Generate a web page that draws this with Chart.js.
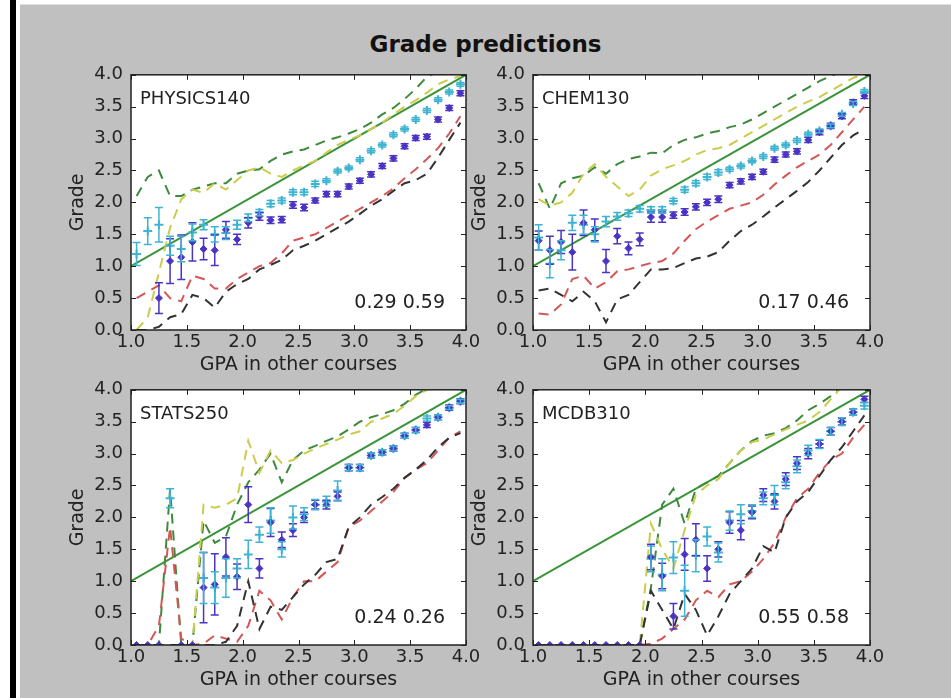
<!DOCTYPE html>
<html>
<head>
<meta charset="utf-8">
<script src="https://cdn.jsdelivr.net/npm/chart.js@4"></script>
<style>
  body { margin: 0; width: 951px; height: 698px; position: relative; overflow: hidden; background: #fff; font-family: "DejaVu Sans", sans-serif; }
  #bar { position: absolute; left: 10px; top: 0; width: 6px; height: 698px; background: #000; }
  #bg { position: absolute; left: 20px; top: 4px; right: 0; bottom: 0; background: #c0c0c0; border-top: 1px solid #e2e2e2; }
  #title { position: absolute; left: 20px; right: 0; top: 31px; line-height: 28px; text-align: center; font: bold 23px "DejaVu Sans"; color: #111; }
  canvas { position: absolute; }
</style>
</head>
<body>
<div id="bar"></div>
<div id="bg"></div>
<div id="title">Grade predictions</div>
<canvas id="c1" width="429" height="324" style="left:61px;top:56px"></canvas>
<canvas id="c2" width="431" height="324" style="left:463px;top:56px"></canvas>
<canvas id="c3" width="429" height="324" style="left:61px;top:371px"></canvas>
<canvas id="c4" width="431" height="324" style="left:463px;top:371px"></canvas>
<script>
// bins of GPA in other courses
const gpaBins = [1.05, 1.15, 1.25, 1.35, 1.45, 1.55, 1.65, 1.75, 1.85, 1.95, 2.05, 2.15, 2.25, 2.35, 2.45, 2.55, 2.65, 2.75, 2.85, 2.95, 3.05, 3.15, 3.25, 3.35, 3.45, 3.55, 3.65, 3.75, 3.85, 3.95];
const diagX = [1.0, 4.0];
const diagY = [1.0, 4.0];
const xTicks = [1.0, 1.5, 2.0, 2.5, 3.0, 3.5, 4.0];
const yTicks = [0.0, 0.5, 1.0, 1.5, 2.0, 2.5, 3.0, 3.5, 4.0];

// PHYSICS140
const physCyan = [1.19, 1.55, 1.65, 1.32, 1.27, 1.53, 1.65, 1.50, 1.52, 1.65, 1.76, 1.84, 1.98, 2.03, 2.16, 2.16, 2.29, 2.34, 2.49, 2.54, 2.67, 2.81, 2.90, 3.06, 3.15, 3.30, 3.44, 3.61, 3.73, 3.85];
const physCyanErr = [0.18, 0.21, 0.27, 0.15, 0.20, 0.13, 0.08, 0.12, 0.10, 0.07, 0.06, 0.05, 0.05, 0.04, 0.04, 0.04, 0.04, 0.03, 0.03, 0.03, 0.03, 0.03, 0.03, 0.03, 0.03, 0.03, 0.03, 0.03, 0.03, 0.03];
const physBlue = [null, null, 0.50, 1.08, 1.14, 1.38, 1.27, 1.25, 1.57, 1.42, 1.68, 1.78, 1.72, 1.73, 1.96, 1.92, 2.03, 2.13, 2.13, 2.25, 2.34, 2.44, 2.57, 2.69, 2.88, 3.01, 3.03, 3.30, 3.48, 3.71];
const physBlueErr = [0, 0, 0.24, 0.35, 0.35, 0.30, 0.17, 0.24, 0.13, 0.08, 0.08, 0.06, 0.05, 0.05, 0.05, 0.05, 0.04, 0.04, 0.04, 0.04, 0.04, 0.04, 0.04, 0.04, 0.04, 0.04, 0.04, 0.04, 0.04, 0.04];
const physGreen = [2.10, 2.40, 2.50, 2.10, 2.10, 2.20, 2.25, 2.30, 2.30, 2.45, 2.50, 2.52, 2.65, 2.75, 2.80, 2.83, 2.90, 2.97, 3.02, 3.08, 3.15, 3.25, 3.38, 3.48, 3.62, 3.78, 3.97, 4.05, 4.10, 4.20];
const physYellow = [0.00, 0.20, 0.90, 1.60, 2.05, 2.20, 2.15, 2.30, 2.20, 2.35, 2.50, 2.55, 2.45, 2.40, 2.50, 2.58, 2.65, 2.78, 2.90, 2.98, 3.05, 3.15, 3.25, 3.38, 3.50, 3.60, 3.72, 3.85, 3.93, 3.98];
const physRed = [0.50, 0.60, 0.70, 0.50, 0.45, 0.85, 0.80, 0.65, 0.65, 0.80, 0.90, 1.00, 1.05, 1.20, 1.40, 1.45, 1.50, 1.60, 1.70, 1.80, 1.90, 2.00, 2.10, 2.22, 2.38, 2.52, 2.68, 2.85, 3.08, 3.35];
const physBlack = [0.00, 0.00, 0.05, 0.20, 0.25, 0.55, 0.50, 0.35, 0.60, 0.72, 0.80, 0.95, 1.02, 1.10, 1.25, 1.32, 1.40, 1.50, 1.60, 1.70, 1.82, 1.95, 2.05, 2.18, 2.30, 2.35, 2.45, 2.70, 2.98, 3.25];

// CHEM130
const chemCyan = [1.45, 1.04, 1.25, 1.68, 1.65, 1.50, 1.70, 1.78, 1.83, 1.90, 1.88, 1.88, 2.02, 2.20, 2.30, 2.40, 2.47, 2.52, 2.57, 2.65, 2.72, 2.85, 2.90, 2.97, 3.07, 3.12, 3.20, 3.38, 3.55, 3.74];
const chemCyanErr = [0.20, 0.22, 0.15, 0.12, 0.15, 0.12, 0.08, 0.06, 0.05, 0.05, 0.05, 0.05, 0.04, 0.04, 0.04, 0.04, 0.04, 0.03, 0.03, 0.03, 0.03, 0.03, 0.03, 0.03, 0.03, 0.03, 0.03, 0.03, 0.03, 0.03];
const chemBlue = [1.40, 1.25, 1.38, 1.22, 1.68, 1.57, 1.08, 1.47, 1.28, 1.42, 1.77, 1.77, 1.80, 1.85, 1.93, 2.00, 2.05, 2.27, 2.33, 2.40, 2.48, 2.67, 2.75, 2.80, 2.98, 3.10, 3.20, 3.35, 3.57, 3.67];
const chemBlueErr = [0.15, 0.22, 0.18, 0.28, 0.20, 0.17, 0.18, 0.12, 0.10, 0.10, 0.08, 0.08, 0.05, 0.05, 0.05, 0.05, 0.05, 0.04, 0.04, 0.04, 0.04, 0.04, 0.04, 0.04, 0.04, 0.04, 0.04, 0.04, 0.04, 0.04];
const chemGreen = [2.30, 1.90, 2.30, 2.38, 2.42, 2.55, 2.45, 2.60, 2.68, 2.72, 2.78, 2.77, 2.90, 2.98, 3.02, 3.08, 3.12, 3.18, 3.22, 3.30, 3.40, 3.50, 3.60, 3.70, 3.80, 3.90, 3.98, 4.05, 4.10, 4.15];
const chemYellow = [2.05, 1.95, 2.00, 2.15, 2.45, 2.60, 2.40, 2.25, 2.10, 2.20, 2.42, 2.52, 2.58, 2.65, 2.75, 2.82, 2.85, 2.90, 3.00, 3.10, 3.20, 3.30, 3.40, 3.50, 3.58, 3.65, 3.75, 3.85, 3.95, 4.02];
const chemRed = [0.26, 0.24, 0.40, 0.80, 0.85, 0.65, 0.75, 0.92, 0.95, 1.00, 1.05, 1.08, 1.20, 1.40, 1.58, 1.70, 1.80, 1.90, 1.95, 2.00, 2.12, 2.28, 2.42, 2.55, 2.65, 2.75, 2.90, 3.10, 3.30, 3.50];
const chemBlack = [0.62, 0.65, 0.55, 0.45, 0.60, 0.45, 0.12, 0.48, 0.55, 0.75, 0.95, 0.95, 0.97, 1.05, 1.12, 1.15, 1.22, 1.40, 1.55, 1.65, 1.78, 1.92, 2.05, 2.18, 2.32, 2.50, 2.70, 2.90, 3.05, 3.15];

// STATS250
const statCyan = [null, null, null, 2.30, null, null, 1.05, 0.90, 1.05, 1.20, 1.42, 1.73, 1.95, 1.50, 2.00, 2.05, 2.20, 2.25, 2.42, 2.78, 2.78, 2.97, 3.02, 3.08, 3.28, 3.37, 3.55, 3.57, 3.72, 3.82];
const statCyanErr = [0, 0, 0, 0.15, 0, 0, 0.40, 0.25, 0.30, 0.15, 0.22, 0.12, 0.20, 0.12, 0.18, 0.10, 0.08, 0.08, 0.15, 0.05, 0.05, 0.04, 0.04, 0.04, 0.04, 0.04, 0.04, 0.04, 0.03, 0.03];
const statBlue = [0.00, 0.00, 0.00, null, 0.00, 0.00, 0.90, 0.95, 1.38, 1.07, 2.20, 1.20, 1.92, 1.65, 1.80, 2.00, 2.20, 2.20, 2.33, 2.78, 2.78, 2.97, 3.02, 3.08, 3.28, 3.37, 3.45, 3.57, 3.72, 3.82];
const statBlueErr = [0, 0, 0, 0, 0, 0, 0.55, 0.48, 0.30, 0.20, 0.28, 0.15, 0.22, 0.12, 0.10, 0.08, 0.07, 0.07, 0.07, 0.05, 0.05, 0.04, 0.04, 0.04, 0.04, 0.04, 0.04, 0.04, 0.04, 0.04];
const statGreen = [0.00, 0.00, 0.00, 2.45, 0.00, 0.00, 1.95, 1.60, 1.70, 2.20, 2.55, 2.75, 3.00, 2.55, 2.90, 3.05, 3.12, 3.20, 3.27, 3.38, 3.50, 3.57, 3.62, 3.68, 3.78, 3.92, 4.02, 4.10, 4.15, 4.20];
const statYellow = [0.00, 0.00, 0.00, 0.00, 0.00, 0.00, 2.20, 2.15, 2.20, 2.30, 3.20, 2.70, 3.05, 2.85, 2.90, 3.00, 3.08, 3.15, 3.22, 3.30, 3.35, 3.50, 3.55, 3.62, 3.75, 3.90, 4.00, 4.10, 4.15, 4.20];
const statRed = [0.00, 0.00, 0.30, 1.85, 0.10, 0.00, 0.02, 0.15, 0.10, 0.05, 0.30, 0.85, 0.70, 0.40, 0.75, 1.00, 1.00, 1.15, 1.30, 1.85, 1.95, 2.10, 2.25, 2.40, 2.62, 2.75, 2.85, 3.05, 3.25, 3.35];
const statBlack = [0.00, 0.00, 0.00, 0.00, 0.00, 0.00, 0.00, 0.00, 0.05, 0.30, 1.00, 0.25, 0.60, 0.55, 0.75, 0.95, 1.10, 1.30, 1.35, 1.85, 2.00, 2.20, 2.32, 2.45, 2.62, 2.75, 2.90, 3.10, 3.25, 3.32];

// MCDB310
const mcdbCyan = [null, null, null, null, null, null, null, null, null, null, 1.35, 1.10, 1.37, 0.85, 1.40, 1.70, 1.45, 1.95, 2.05, 2.10, 2.30, 2.35, 2.55, 2.80, 3.05, 3.15, 3.35, 3.50, 3.65, 3.75];
const mcdbCyanErr = [0, 0, 0, 0, 0, 0, 0, 0, 0, 0, 0.20, 0.25, 0.25, 0.40, 0.25, 0.15, 0.15, 0.15, 0.15, 0.10, 0.10, 0.15, 0.10, 0.10, 0.08, 0.07, 0.06, 0.06, 0.05, 0.05];
const mcdbBlue = [0.00, 0.00, 0.00, 0.00, 0.00, 0.00, 0.00, 0.00, 0.00, 0.00, 1.38, 1.08, 0.45, 1.42, 1.65, 1.20, 1.50, 1.92, 1.80, 2.08, 2.35, 2.25, 2.60, 2.85, 3.00, 3.15, 3.35, 3.50, 3.65, 3.85];
const mcdbBlueErr = [0, 0, 0, 0, 0, 0, 0, 0, 0, 0, 0.20, 0.20, 0.20, 0.25, 0.25, 0.20, 0.12, 0.17, 0.15, 0.10, 0.10, 0.12, 0.10, 0.10, 0.08, 0.06, 0.06, 0.05, 0.05, 0.05];
const mcdbGreen = [0.00, 0.00, 0.00, 0.00, 0.00, 0.00, 0.00, 0.00, 0.00, 0.00, 0.90, 2.20, 2.45, 1.90, 2.45, 2.55, 2.65, 2.85, 3.05, 3.20, 3.28, 3.32, 3.40, 3.52, 3.68, 3.78, 3.90, 4.05, 4.10, 4.15];
const mcdbYellow = [0.00, 0.00, 0.00, 0.00, 0.00, 0.00, 0.00, 0.00, 0.00, 0.00, 1.90, 1.50, 1.20, 1.80, 2.35, 2.50, 2.60, 2.85, 3.05, 3.18, 3.22, 3.30, 3.38, 3.45, 3.52, 3.65, 3.85, 4.05, 4.10, 4.15];
const mcdbRed = [0.00, 0.00, 0.00, 0.00, 0.00, 0.00, 0.00, 0.00, 0.00, 0.00, 0.02, 0.10, 0.25, 0.40, 0.70, 0.85, 0.75, 0.95, 1.00, 1.15, 1.35, 1.60, 2.00, 2.30, 2.45, 2.70, 2.90, 3.00, 3.25, 3.45];
const mcdbBlack = [0.00, 0.00, 0.00, 0.00, 0.00, 0.00, 0.00, 0.00, 0.00, 0.00, 0.85, 0.55, 0.25, 0.80, 0.55, 0.15, 0.45, 0.80, 1.00, 1.20, 1.55, 1.45, 2.00, 2.25, 2.40, 2.65, 2.90, 3.10, 3.35, 3.60];

const CYAN = "#3fb4d2";
const BLUE = "#4a34c4";

Chart.defaults.font.family = '"DejaVu Sans", sans-serif';
Chart.defaults.color = "#222";

function points(ys, errs) {
  return gpaBins
    .map((x, i) => ({ x: x, y: ys[i], e: errs ? errs[i] : 0 }))
    .filter(p => p.y !== null);
}

function dashed(ys, color) {
  return { data: points(ys), showLine: true, borderColor: color, borderWidth: 2, borderDash: [10, 7], pointRadius: 0 };
}

// white plot area, error bars, frame with inward ticks, panel texts
const panelDeco = {
  id: "panelDeco",
  beforeDraw(chart) {
    const { ctx, chartArea: a } = chart;
    ctx.save();
    ctx.fillStyle = "#fff";
    ctx.fillRect(a.left, a.top, a.width, a.height);
    ctx.restore();
  },
  afterDatasetsDraw(chart) {
    const { ctx, chartArea: a } = chart;
    const ys = chart.scales.y;
    ctx.save();
    ctx.beginPath();
    ctx.rect(a.left, a.top, a.width, a.height);
    ctx.clip();
    chart.data.datasets.forEach((ds, i) => {
      if (!ds.errorBars) return;
      const meta = chart.getDatasetMeta(i);
      ctx.strokeStyle = ds.borderColor;
      ctx.lineWidth = 1.5;
      meta.data.forEach((pt, j) => {
        const p = ds.data[j];
        if (!p.e) return;
        const y0 = ys.getPixelForValue(p.y - p.e);
        const y1 = ys.getPixelForValue(p.y + p.e);
        ctx.beginPath();
        ctx.moveTo(pt.x, y0); ctx.lineTo(pt.x, y1);
        ctx.moveTo(pt.x - 4, y0); ctx.lineTo(pt.x + 4, y0);
        ctx.moveTo(pt.x - 4, y1); ctx.lineTo(pt.x + 4, y1);
        ctx.stroke();
      });
    });
    ctx.restore();
  },
  afterDraw(chart, args, opts) {
    const { ctx, chartArea: a, scales } = chart;
    ctx.save();
    ctx.strokeStyle = "#222";
    ctx.lineWidth = 1;
    ctx.beginPath();
    xTicks.forEach(v => {
      const px = Math.round(scales.x.getPixelForValue(v)) + 0.5;
      ctx.moveTo(px, a.bottom); ctx.lineTo(px, a.bottom - 5);
      ctx.moveTo(px, a.top); ctx.lineTo(px, a.top + 5);
    });
    yTicks.forEach(v => {
      const py = Math.round(scales.y.getPixelForValue(v)) + 0.5;
      ctx.moveTo(a.left, py); ctx.lineTo(a.left + 5, py);
      ctx.moveTo(a.right, py); ctx.lineTo(a.right - 5, py);
    });
    ctx.stroke();
    ctx.lineWidth = 1.5;
    ctx.strokeRect(a.left, a.top, a.width, a.height);

    ctx.fillStyle = "#222";
    ctx.textBaseline = "middle";
    ctx.font = '18px "DejaVu Sans"';
    ctx.textAlign = "left";
    ctx.fillText(opts.course, a.left + 9, a.top + 25);
    ctx.font = '19px "DejaVu Sans"';
    ctx.textAlign = "right";
    ctx.fillText(opts.stats, a.right - 21, a.bottom - 27);
    ctx.restore();
  }
};

function makePanel(id, course, stats, cyan, cyanErr, blue, blueErr, green, yellow, red, black) {
  return new Chart(document.getElementById(id), {
    type: "scatter",
    data: {
      datasets: [
        { data: points(blue, blueErr), errorBars: true, pointStyle: "rectRot", pointRadius: 3.5, backgroundColor: BLUE, borderColor: BLUE, borderWidth: 1 },
        { data: points(cyan, cyanErr), errorBars: true, pointStyle: "cross", pointRadius: 4.5, backgroundColor: CYAN, borderColor: CYAN, borderWidth: 2 },
        dashed(black, "#333333"),
        dashed(red, "#d45656"),
        dashed(yellow, "#cccc4c"),
        dashed(green, "#3d8a3d"),
        { data: diagX.map((x, i) => ({ x: x, y: diagY[i] })), showLine: true, borderColor: "#3a943a", borderWidth: 2, pointRadius: 0 }
      ]
    },
    options: {
      responsive: false,
      animation: false,
      layout: { padding: { top: 12, right: 24, left: 0, bottom: 0 } },
      plugins: {
        legend: { display: false },
        tooltip: { enabled: false },
        panelDeco: { course: course, stats: stats }
      },
      scales: {
        x: {
          type: "linear", min: 1, max: 4,
          afterBuildTicks: s => { s.ticks = xTicks.map(v => ({ value: v })); },
          ticks: { callback: v => v.toFixed(1), font: { size: 18 }, padding: 2, maxRotation: 0, autoSkip: false },
          grid: { display: false, drawTicks: false },
          border: { display: false },
          title: { display: true, text: "GPA in other courses", font: { size: 19 }, padding: { top: 0, bottom: 4 } },
          afterFit: s => { s.height = 50; }
        },
        y: {
          type: "linear", min: 0, max: 4,
          afterBuildTicks: s => { s.ticks = yTicks.map(v => ({ value: v })); },
          ticks: { callback: v => v.toFixed(1), font: { size: 18 }, padding: 8, autoSkip: false },
          grid: { display: false, drawTicks: false },
          border: { display: false },
          title: { display: true, text: "Grade", font: { size: 19 }, padding: { top: 6, bottom: 0 } },
          afterFit: s => { s.width = 70; }
        }
      }
    },
    plugins: [panelDeco]
  });
}

makePanel("c1", "PHYSICS140", "0.29 0.59", physCyan, physCyanErr, physBlue, physBlueErr, physGreen, physYellow, physRed, physBlack);
makePanel("c2", "CHEM130", "0.17 0.46", chemCyan, chemCyanErr, chemBlue, chemBlueErr, chemGreen, chemYellow, chemRed, chemBlack);
makePanel("c3", "STATS250", "0.24 0.26", statCyan, statCyanErr, statBlue, statBlueErr, statGreen, statYellow, statRed, statBlack);
makePanel("c4", "MCDB310", "0.55 0.58", mcdbCyan, mcdbCyanErr, mcdbBlue, mcdbBlueErr, mcdbGreen, mcdbYellow, mcdbRed, mcdbBlack);
</script>
</body>
</html>
